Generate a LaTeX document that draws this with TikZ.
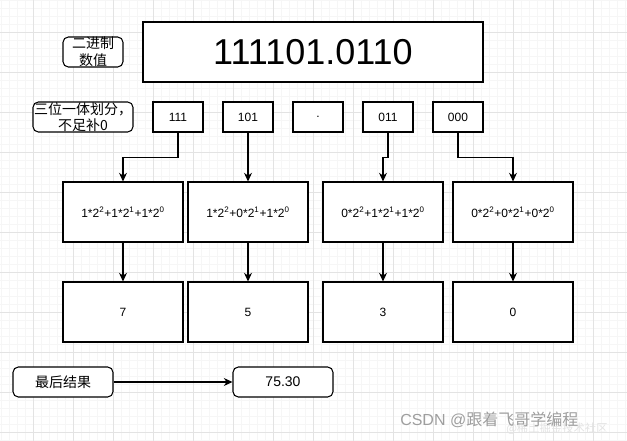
\documentclass[tikz,border=0pt]{standalone}
\usepackage{fontspec}
\setmainfont{Liberation Sans}
\newfontfamily\cjk{Noto Sans CJK SC}
\usetikzlibrary{arrows.meta}
\definecolor{GridMinor}{gray}{0.965}
\definecolor{GridMajor}{gray}{0.89}
\definecolor{MarkColor}{gray}{0.62}
\newcommand{\pw}[1]{\textsuperscript{#1}}
\newcommand{\lw}{0.8pt}
\tikzset{
    box/.style={draw=black,line width=\lw,fill=white,inner sep=0pt,align=center},
    tagbox/.style={box,rounded corners=4pt,minimum width=75pt,minimum height=22.5pt,font=\cjk\fontsize{10.5}{12.5}\selectfont},
    bitbox/.style={box,minimum width=37.5pt,minimum height=22.5pt,font=\fontsize{9}{11}\selectfont},
    calcbox/.style={box,minimum width=90pt,minimum height=45pt,font=\fontsize{9}{11}\selectfont},
    link/.style={line width=\lw,-{Stealth[length=6.5pt,width=6pt]}},
}

\begin{document}
\begin{tikzpicture}[x=0.75pt,y=-0.75pt]
    \useasboundingbox (0,0) rectangle (627,441);    % Freeze the bounding box
    % --- --- --- Background grid
    \fill[white] (0,0) rectangle (627,441);
    \foreach \x in {1,9,...,627} \draw[GridMinor,line width=0.6pt] (\x,0) -- (\x,441);
    \foreach \y in {0,8,...,441} \draw[GridMinor,line width=0.6pt] (0,\y) -- (627,\y);
    \foreach \x in {33,73,...,627} \draw[GridMajor,line width=0.6pt] (\x,0) -- (\x,441);
    \foreach \y in {32,72,...,441} \draw[GridMajor,line width=0.6pt] (0,\y) -- (627,\y);
    % --- --- --- Binary value
    \node[tagbox,minimum width=45pt] (LBL_BIN) at (93,52) {二进制\\数值};
    \node[box,minimum width=255pt,minimum height=45pt,font=\fontsize{27}{31}\selectfont] (BIN) at (313,52) {111101.0110};
    % --- --- --- Groups of three bits
    \node[tagbox] (LBL_SPLIT) at (83,117) {三位一体划分，\\不足补0};
    \node[bitbox] (G1) at (178,117) {111};
    \node[bitbox] (G2) at (248,117) {101};
    \node[bitbox] (G3) at (318,117) {.};
    \node[bitbox] (G4) at (388,117) {011};
    \node[bitbox] (G5) at (458,117) {000};
    % --- --- --- Weighted sums
    \node[calcbox] (F1) at (123,212) {1*2\pw{2}+1*2\pw{1}+1*2\pw{0}};
    \node[calcbox] (F2) at (248,212) {1*2\pw{2}+0*2\pw{1}+1*2\pw{0}};
    \node[calcbox] (F3) at (383,212) {0*2\pw{2}+1*2\pw{1}+1*2\pw{0}};
    \node[calcbox] (F4) at (513,212) {0*2\pw{2}+0*2\pw{1}+0*2\pw{0}};
    % --- --- --- Octal digits
    \node[calcbox] (D1) at (123,312) {7};
    \node[calcbox] (D2) at (248,312) {5};
    \node[calcbox] (D3) at (383,312) {3};
    \node[calcbox] (D4) at (513,312) {0};
    % --- --- --- Result
    \node[tagbox] (LBL_RES) at (63,382) {最后结果};
    \node[tagbox,font=\fontsize{10.5}{12.5}\selectfont] (RES) at (283,382) {75.30};
    % === === === Connectors
    \draw[link] (G1.south) -- ++(0,25) -| (F1.north);
    \draw[link] (G2.south) -- (F2.north);
    \draw[link] (G4.south) -- ++(0,25) -| (F3.north);
    \draw[link] (G5.south) -- ++(0,25) -| (F4.north);
    \foreach \i in {1,...,4} \draw[link] (F\i.south) -- (D\i.north);
    \draw[link] (LBL_RES.east) -- (RES.west);
    % === === === Watermark
    \node[anchor=west,inner sep=0pt,text=gray!22,font=\cjk\fontsize{8.5}{10}\selectfont] (MARK_B) at (506,429) {@稀土掘金技术社区};
    \node[anchor=west,inner sep=0pt,text=MarkColor,font=\fontsize{12}{14}\selectfont] (MARK_A) at (400,420) {CSDN @{\cjk 跟着飞哥学编程}};
\end{tikzpicture}
\end{document}
